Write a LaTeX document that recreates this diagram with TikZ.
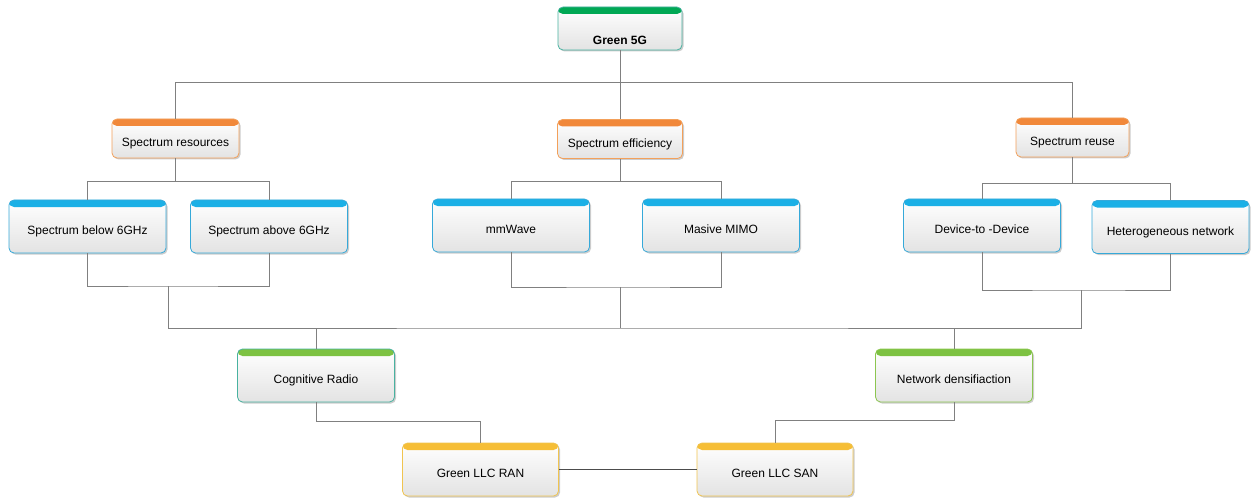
\documentclass[tikz,border=0pt]{standalone}
\usepackage{fontspec}
\setmainfont{Liberation Sans}
\usetikzlibrary{shadows,calc}

\definecolor{hdgreen}{RGB}{0,168,84}
\definecolor{hdlime}{RGB}{125,194,66}
\definecolor{hdorange}{RGB}{241,136,58}
\definecolor{hdblue}{RGB}{27,176,230}
\definecolor{hdyellow}{RGB}{246,190,54}
\definecolor{bdteal}{RGB}{72,178,160}
\definecolor{bdorange}{RGB}{243,160,90}
\definecolor{bdblue}{RGB}{54,169,217}
\definecolor{bdyellow}{RGB}{240,196,80}
\definecolor{bdlime}{RGB}{140,198,80}
\definecolor{wire}{RGB}{128,128,128}

\tikzset{
  card/.style={rectangle, rounded corners=5pt, line width=0.8pt,
    top color=white, bottom color=black!11,
    drop shadow={shadow xshift=1.5pt, shadow yshift=-1.5pt, opacity=0.4},
    inner sep=2pt, text height=17.5pt, text depth=1pt,
    font=\fontsize{12}{14}\selectfont},
  header/.style={path picture={\fill[#1] (path picture bounding box.north west)
    rectangle ([yshift=-7pt]path picture bounding box.north east);}},
  goal/.style={card, header=hdgreen, draw=bdteal, text height=32.6pt},
  topic/.style={card, minimum height=39pt, header=hdorange, draw=bdorange},
  tech/.style={card, minimum width=157pt, minimum height=53pt, header=hdblue, draw=bdblue},
  method/.style={card, minimum width=157pt, minimum height=53pt},
  llc/.style={card, minimum width=156pt, minimum height=53pt, header=hdyellow, draw=bdyellow},
  conn/.style={draw=wire, line width=0.7pt}
}

\begin{document}
\begin{tikzpicture}[x=1pt,y=-1pt]
    \useasboundingbox (0,0) rectangle (1251,500);

    % Goal and the three spectrum branches
    \node[goal, minimum width=124pt, minimum height=43pt] (g5g) at (620,28.5) {\textbf{Green 5G}};
    \node[topic, minimum width=127pt] (sres) at (175.5,138.5) {Spectrum resources};
    \node[topic, minimum width=125pt] (seff) at (620,139) {Spectrum efficiency};
    \node[topic, minimum width=113pt] (sreu) at (1072.5,137.5) {Spectrum reuse};

    % Technologies
    \node[tech] (below6) at (87.5,226.5) {Spectrum below 6GHz};
    \node[tech] (above6) at (269,226.5) {Spectrum above 6GHz};
    \node[tech] (mmw) at (511,225.5) {mmWave};
    \node[tech] (mimo) at (721,225.5) {Masive MIMO};
    \node[tech] (d2d) at (982,225.5) {Device-to -Device};
    \node[tech] (hetnet) at (1170.5,227) {Heterogeneous network};

    % Methods
    \node[method, header=hdlime, draw=bdteal] (crad) at (316,375.5) {Cognitive Radio};
    \node[method, header=hdlime, draw=bdlime] (nden) at (954,375.5) {Network densifiaction};

    % LLC layer
    \node[llc] (ran) at (480.5,469.5) {Green LLC RAN};
    \node[llc] (san) at (775,469.5) {Green LLC SAN};

    % tree from the goal down
    \draw[conn] (g5g.south) -- ++(0,32) coordinate (t0);
    \draw[conn] (sres.north) |- (t0) -| (sreu.north);
    \draw[conn] (t0) -- (seff.north);

    \draw[conn] (sres.south) -- ++(0,23) coordinate (t1);
    \draw[conn] (below6.north) |- (t1) -| (above6.north);
    \draw[conn] (seff.south) -- ++(0,22) coordinate (t2);
    \draw[conn] (mmw.north) |- (t2) -| (mimo.north);
    \draw[conn] (sreu.south) -- ++(0,26) coordinate (t3);
    \draw[conn] (d2d.north) |- (t3) -| (hetnet.north);

    % gathering lines under the technologies
    \coordinate (b1) at (168,286);
    \coordinate (b2) at (620,287);
    \coordinate (b3) at (1081,290);
    \coordinate (bus) at (620,328);
    \draw[conn] (below6.south) |- (b1) -| (above6.south);
    \draw[conn] (mmw.south) |- (b2) -| (mimo.south);
    \draw[conn] (d2d.south) |- (b3) -| (hetnet.south);
    \draw[conn] (b1) |- (bus) -| (b3);
    \draw[conn] (b2) -- (bus);
    \draw[conn] (crad.north) -- (crad.north |- bus);
    \draw[conn] (nden.north) -- (nden.north |- bus);

    % methods to LLC
    \draw[conn] (crad.south) -- ++(0,19) -| (ran.north);
    \draw[conn] (nden.south) -- ++(0,18) -| (san.north);
    \draw[conn, draw=black!70] (ran) -- (san);
\end{tikzpicture}
\end{document}
